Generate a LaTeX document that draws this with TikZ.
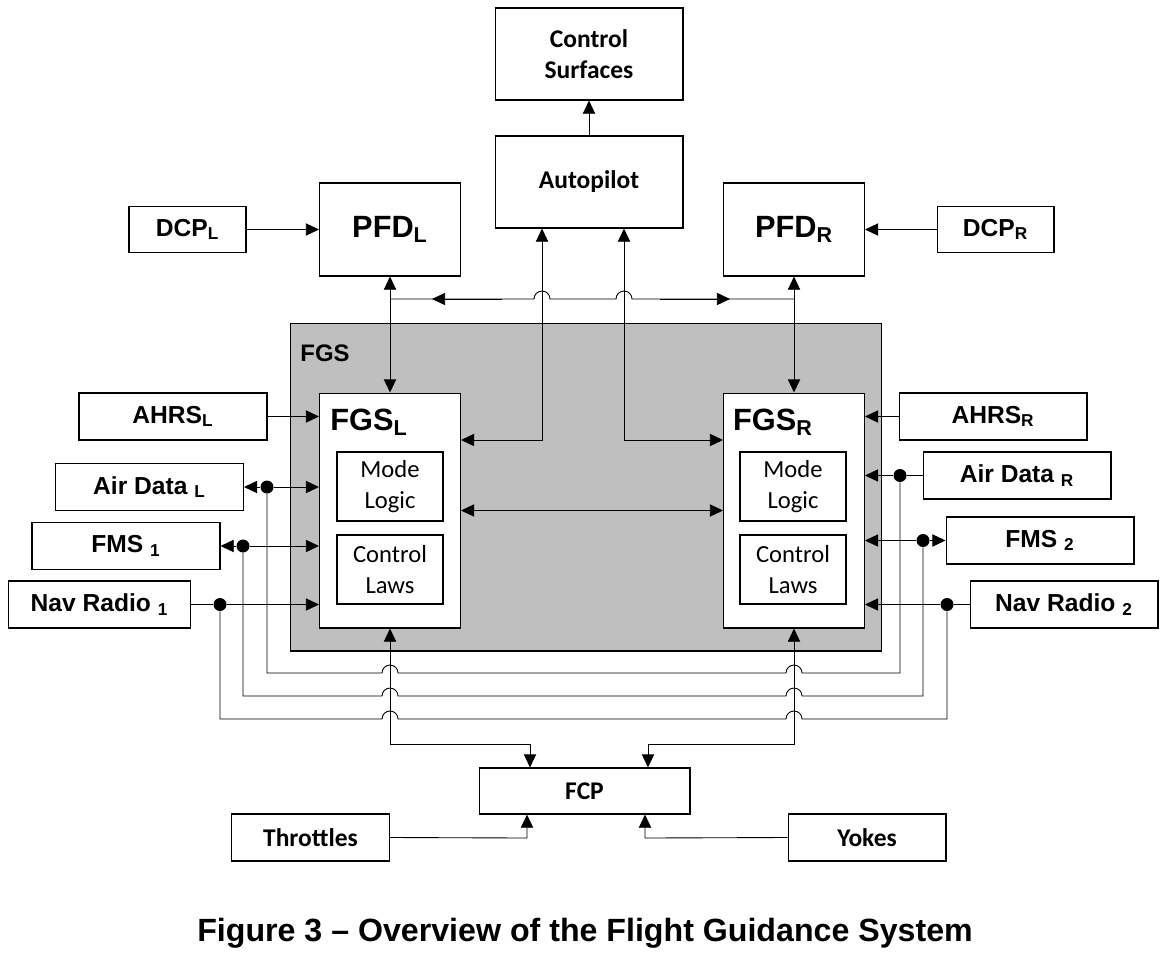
\documentclass[tikz,border=0pt]{standalone}
\usepackage{fontspec}
\setmainfont{Liberation Sans}
\newfontfamily\calibri{Carlito}
\usetikzlibrary{arrows.meta}
\definecolor{fgsgray}{RGB}{191,191,191}

\begin{document}
\begin{tikzpicture}[x=0.02cm, y=-0.02cm, line width=0.5pt,
        blk/.style={draw, fill=white, line width=0.6pt, inner sep=0pt, align=center},
        arial/.style={font=\fontsize{14}{17}\selectfont\bfseries},
        big/.style={font=\fontsize{17.5}{20}\selectfont\bfseries},
        cal/.style={font=\calibri\fontsize{14.5}{17.6}\selectfont\bfseries},
        calr/.style={font=\calibri\fontsize{14}{17.6}\selectfont},
        tip/.style={-{Triangle[length=7.5pt,width=7pt]}},
        both/.style={{Triangle[length=7.5pt,width=7pt]}-{Triangle[length=7.5pt,width=7pt]}},
        dot/.style={circle, fill, inner sep=0pt, minimum size=7.4pt}]

        \useasboundingbox (0,0) rectangle (1175,966);

        % top row
        \node[blk, cal, minimum width=3.76cm, minimum height=1.84cm] (cs) at (589,54) {Control\\Surfaces};
        \node[blk, cal, minimum width=3.76cm, minimum height=1.84cm] (ap) at (589,182) {Autopilot};
        \node[blk, big, minimum width=2.82cm, minimum height=1.86cm] (pfdL) at (390,229.5) {PFD\textsubscript{L}};
        \node[blk, big, minimum width=2.82cm, minimum height=1.86cm] (pfdR) at (794,229.5) {PFD\textsubscript{R}};
        \node[blk, arial, minimum width=2.34cm, minimum height=0.92cm] (dcpL) at (187.5,229.5) {DCP\textsubscript{L}};
        \node[blk, arial, minimum width=2.34cm, minimum height=0.92cm] (dcpR) at (995.5,229.5) {DCP\textsubscript{R}};

        % FGS block
        \node[draw, fill=fgsgray, line width=0.6pt, minimum width=11.84cm, minimum height=6.56cm] (fgs) at (586,487) {};
        \node[font=\fontsize{13.6}{16}\selectfont\bfseries] (fgsname) at (325,353) {FGS};
        \node[blk, minimum width=2.82cm, minimum height=4.70cm] (fgsL) at (390,510.5) {};
        \node[blk, minimum width=2.82cm, minimum height=4.70cm] (fgsR) at (794,510.5) {};
        \node[big] (fgsLt) at (369,422) {FGS\textsubscript{L}};
        \node[big] (fgsRt) at (773,422) {FGS\textsubscript{R}};
        \node[blk, calr, minimum width=2.12cm, minimum height=1.38cm] (mlL) at (390,486.5) {Mode\\Logic};
        \node[blk, calr, minimum width=2.12cm, minimum height=1.38cm] (clL) at (390,569.5) {Control\\Laws};
        \node[blk, calr, minimum width=2.12cm, minimum height=1.38cm] (mlR) at (793,486.5) {Mode\\Logic};
        \node[blk, calr, minimum width=2.12cm, minimum height=1.38cm] (clR) at (793,569.5) {Control\\Laws};

        % sensors
        \node[blk, arial, minimum width=3.76cm, minimum height=0.94cm] (ahrsL) at (173,416.5) {AHRS\textsubscript{L}};
        \node[blk, arial, minimum width=3.76cm, minimum height=0.94cm] (adL) at (149.5,487) {Air Data \textsubscript{L}};
        \node[blk, arial, minimum width=3.76cm, minimum height=0.94cm] (fms1) at (126,546) {FMS \textsubscript{1}};
        \node[blk, arial, minimum width=3.64cm, minimum height=0.94cm] (nav1) at (99.5,604.5) {Nav Radio \textsubscript{1}};
        \node[blk, arial, minimum width=3.76cm, minimum height=0.94cm] (ahrsR) at (993,416.5) {AHRS\textsubscript{R}};
        \node[blk, arial, minimum width=3.76cm, minimum height=0.94cm] (adR) at (1017,475.5) {Air Data \textsubscript{R}};
        \node[blk, arial, minimum width=3.76cm, minimum height=0.94cm] (fms2) at (1040,540.5) {FMS \textsubscript{2}};
        \node[blk, arial, minimum width=3.76cm, minimum height=0.94cm] (nav2) at (1064,604.5) {Nav Radio \textsubscript{2}};

        % bottom row
        \node[blk, cal, minimum width=4.22cm, minimum height=0.92cm] (fcp) at (584.5,791) {FCP};
        \node[blk, cal, minimum width=3.16cm, minimum height=0.94cm] (thr) at (310.5,837.5) {Throttles};
        \node[blk, cal, minimum width=3.16cm, minimum height=0.94cm] (yok) at (867,837.5) {Yokes};

        \node[font=\fontsize{18.3}{22}\selectfont\bfseries] (cap) at (585,933) {Figure 3 – Overview of the Flight Guidance System};

        % junction dots
        \node[dot] (dAL) at (267,487) {};
        \node[dot] (dFL) at (243,546) {};
        \node[dot] (dNL) at (220,604.5) {};
        \node[dot] (dAR) at (900,475.5) {};
        \node[dot] (dFR) at (923,540.5) {};
        \node[dot] (dNR) at (947,604.5) {};

        \coordinate (xL) at (390,299);
        \coordinate (xR) at (794,299);
        \coordinate (apL) at (542,440);
        \coordinate (apR) at (624,440);
        \coordinate (cL) at (530,744);
        \coordinate (cR) at (648,744);
        \coordinate (tU) at (527,838);
        \coordinate (yU) at (645,838);

        % top connectors
        \draw[tip] (ap.north) -- (cs.south);
        \draw[tip] (dcpL.east) -- (pfdL.west);
        \draw[tip] (dcpR.west) -- (pfdR.east);
        \draw[both] (pfdL.south) -- (fgsL.north);
        \draw[both] (pfdR.south) -- (fgsR.north);
        \draw (xL) -- (534,299) arc (180:360:8) -- (616,299) arc (180:360:8) -- (xR);
        \draw[tip] (502,299) -- (432,299);
        \draw[tip] (660,299) -- (730,299);
        \draw[both] (fgsL.east |- apL) -| (apL |- ap.south);
        \draw[both] (fgsR.west |- apR) -| (apR |- ap.south);
        \draw[both] (fgsL.east) -- (fgsR.west);

        % left inputs
        \draw[tip] (ahrsL.east) -- (ahrsL.east -| fgsL.west);
        \draw[tip] (dAL) -- (adL.east);
        \draw[tip] (dAL) -- (dAL -| fgsL.west);
        \draw[tip] (dFL) -- (fms1.east);
        \draw[tip] (dFL) -- (dFL -| fgsL.west);
        \draw (nav1.east) -- (dNL);
        \draw[tip] (dNL) -- (dNL -| fgsL.west);

        % right inputs
        \draw[tip] (ahrsR.west) -- (ahrsR.west -| fgsR.east);
        \draw (adR.west) -- (dAR);
        \draw[tip] (dAR) -- (dAR -| fgsR.east);
        \draw[tip] (dFR) -- (fms2.west);
        \draw[tip] (dFR) -- (dFR -| fgsR.east);
        \draw (nav2.west) -- (dNR);
        \draw[tip] (dNR) -- (dNR -| fgsR.east);

        % cross links under the FGS
        \draw (dAL) -- (267,673) -- (382,673) arc (180:360:8) -- (786,673) arc (180:360:8) -- (900,673) -- (dAR);
        \draw (dFL) -- (243,696) -- (382,696) arc (180:360:8) -- (786,696) arc (180:360:8) -- (923,696) -- (dFR);
        \draw (dNL) -- (220,719) -- (382,719) arc (180:360:8) -- (786,719) arc (180:360:8) -- (947,719) -- (dNR);

        % FCP
        \draw[both] (fgsL.south) |- (cL) -- (cL |- fcp.north);
        \draw[both] (fgsR.south) |- (cR) -- (cR |- fcp.north);
        \draw[tip] (thr.east) -- (tU) -- (tU |- fcp.south);
        \draw[tip] (yok.west) -- (yU) -- (yU |- fcp.south);
    \end{tikzpicture}
\end{document}
